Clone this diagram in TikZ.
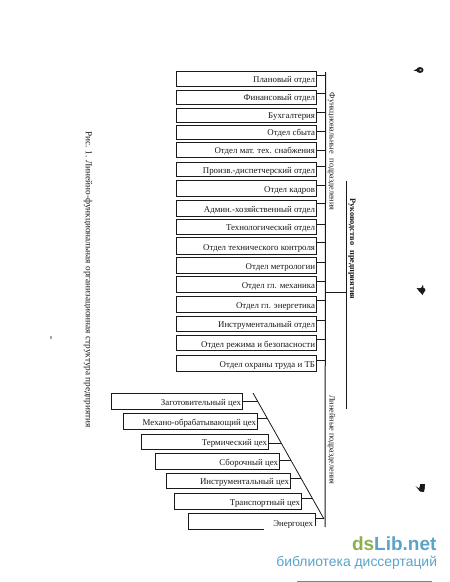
\documentclass[tikz,border=0pt]{standalone}
\usepackage{fontspec}
\setmainfont{Liberation Serif}
\newfontfamily\logofont{Liberation Sans}
\definecolor{logogreen}{HTML}{8BAF4E}
\definecolor{logoblue}{HTML}{5CA3C9}
\definecolor{ink}{HTML}{1A1A1A}
\tikzset{
  every node/.style={inner sep=0pt,outer sep=0pt,text=ink},
  dept/.style={draw=ink,line width=0.9pt},
  link/.style={draw=ink,line width=0.8pt},
  lbl/.style={font=\fontsize{8.85}{9}\selectfont,anchor=base east},
  vlbl/.style={font=\fontsize{8.2}{9}\selectfont,rotate=-90},
  blob/.style={fill=ink,draw=none},
}
\begin{document}
\begin{tikzpicture}[x=1pt,y=-1pt]
\useasboundingbox (0,0) rectangle (450,582);
\fill[white] (0,0) rectangle (450,582);
% spines
\coordinate (spineT) at (325.7,72);
\coordinate (spineB) at (325,527);
\coordinate (headT) at (346,181);
\coordinate (headB) at (346,409);
\coordinate (headJ) at (346,292);
\coordinate (spineJ) at (325.5,292);
\coordinate (diagT) at (253,393);
\coordinate (diagB) at (324,519);
\draw[link,line width=1pt] (spineT) -- (spineB);
\draw[link] (headT) -- (headB);
\draw[link] (spineJ) -- (headJ);
\draw[link] (diagT) -- (diagB);
% upper boxes
\foreach \n/\t/\b/\s/\txt in {
 a/71/86/75/Плановый отдел,
 b/90/104/93/Финансовый отдел,
 c/108.5/122/112/Бухгалтерия,
 d/125/139/131/Отдел сбыта,
 e/142.5/157/150/Отдел мат. тех. снабжения,
 f/162/176.5/166/Произв.-диспетчерский отдел,
 g/180/196/185/Отдел кадров,
 h/200/216/203/Админ.-хозяйственный отдел,
 i/219/234/224/Технологический отдел,
 j/237/254/242/Отдел технического контроля,
 k/257.5/273/262/Отдел метрологии,
 l/276.5/292/281/Отдел гл. механика,
 m/296/312/300/Отдел гл. энергетика,
 n/316/331/320/Инструментальный отдел,
 o/335/350.5/339/Отдел режима и безопасности,
 p/355/371/360/Отдел охраны труда и ТБ}{
  \draw[dept] (176,\t) rectangle (316,\b);
  \node[lbl] at (315,\b-3.5) {\txt};
  \coordinate (s\n) at (316,\s);
  \coordinate (t\n) at (325.7,\s);
  \draw[link] (s\n) -- (t\n);
}
% lower boxes
\foreach \n/\l/\r/\t/\b/\s/\txt in {
 q/111/242/393/409/401/Заготовительный цех,
 r/123.5/257/413/429/418/Механо-обрабатывающий цех,
 u/141.5/268/434/449/443/Термический цех,
 v/155.5/279/453/469/460/Сборочный цех,
 w/166/290/473/488/478/Инструментальный цех,
 x/174.5/301/493/509/498/Транспортный цех}{
  \draw[dept] (\l,\t) rectangle (\r,\b);
  \node[lbl] at (\r-1,\b-3.5) {\txt};
  \coordinate (s\n) at (\r,\s);
  \coordinate (t\n) at ({253+(\s-393)*71/126},\s);
  \draw[link] (s\n) -- (t\n);
}
% last box, open as printed
\coordinate (yA) at (264,529);
\draw[dept] (yA) -- (188,529) -- (188,513) -- (315,513) -- (315,526);
\node[lbl] at (313,526) {Энергоцех};
\coordinate (yS) at (315,518);
\coordinate (yT) at (323.5,518);
\draw[link] (yS) -- (yT);
% vertical labels
\node[vlbl] at (331.5,151.5) {Функциональные\hspace{0.6em}подразделения};
\node[vlbl] at (331.5,440) {Линейные подразделения};
\node[vlbl,font=\fontsize{8.3}{9}\selectfont\bfseries] at (352,249) {Руководство\hspace{0.6em}предприятия};
% caption
\node[rotate=-90,font=\fontsize{9.25}{10}\selectfont] at (88,279.5) {Рис. 1. Линейно-функциональная организационная структура предприятия};
% specks
\fill[blob] (420,70) ellipse (3.6 and 3);
\fill[blob] (413.5,70.5) -- (418,68.5) -- (418,71.5) -- cycle;
\fill[white] (420.5,70) ellipse (1.3 and 0.7);
\fill[blob] (422,290) ellipse (3.5 and 2.5);
\fill[blob] (416.5,288) -- (421,288.5) -- (423,284.5) -- (424,292) -- (422.5,295) -- (420,292) -- cycle;
\fill[blob] (422,488) ellipse (2.8 and 3.5);
\fill[blob] (415.5,486) -- (420,489) -- (420,484) -- (425,484) -- (424,492) -- (420,491.5) -- cycle;
\fill[gray!70] (49.5,336) rectangle (52,339);
% bottom edge line
\draw[gray,line width=0.8pt] (297,581) -- (432,581);
% logo
\node[anchor=base west,font=\logofont\bfseries\fontsize{19}{20}\selectfont] at (352,550) {\textcolor{logogreen}{ds}\textcolor{logoblue}{Lib.net}};
\node[anchor=base east,font=\logofont\fontsize{13.9}{15}\selectfont,text=logoblue] at (437,566) {библиотека диссертаций};
\end{tikzpicture}
\end{document}
